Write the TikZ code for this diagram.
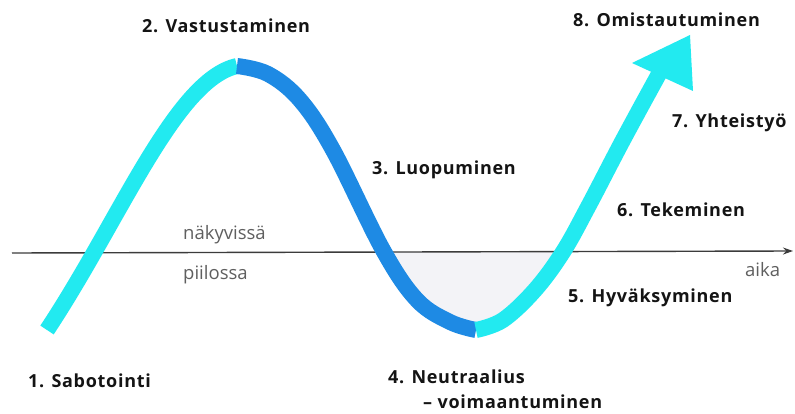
\documentclass[tikz,border=0pt]{standalone}
\usepackage{fontspec}
\setmainfont{Open Sans}
\usetikzlibrary{arrows.meta}
\definecolor{lightc}{RGB}{34,234,240}
\definecolor{darkb}{RGB}{30,138,228}
\definecolor{shadeg}{RGB}{243,243,247}
\definecolor{axisg}{RGB}{60,60,60}
\definecolor{labtext}{RGB}{20,20,20}
\definecolor{graytext}{RGB}{95,95,95}
\newfontfamily\labfont[LetterSpace=4]{Open Sans}
\tikzset{
  lab/.style={anchor=west, inner sep=0pt, text=labtext, font=\labfont\fontsize{18}{20}\selectfont\bfseries},
  glab/.style={anchor=west, inner sep=0pt, text=graytext, font=\fontsize{18.5}{20}\selectfont},
  curveseg/.style={line width=16pt, line cap=butt, line join=round},
}
\begin{document}
\begin{tikzpicture}[x=1pt,y=-1pt]
\useasboundingbox (0,0) rectangle (795,414);
\fill[white] (0,0) rectangle (795,414);
% coordinates
\coordinate (start) at (47,330);
\coordinate (peak) at (237,66);
\coordinate (trough) at (476,330);
\coordinate (cross) at (563,252);
\coordinate (shaftend) at (660,72);
\coordinate (axl) at (12,253);
\coordinate (axr) at (793,251);
% shaded hidden area
\begin{scope}
\clip (0,252.5) rectangle (795,414);
\fill[shadeg] plot[smooth, tension=0.6] coordinates {(237,66) (268,74) (300,100) (333,150) (383,250) (417,300) (450,322) (476,330)}
   -- plot[smooth, tension=0.6] coordinates {(476,330) (503,320) (535,290) (563,252)} -- cycle;
\end{scope}
% axis
\draw[axisg, line width=1.4pt, -{Stealth[length=10pt,width=7pt]}] (axl) -- (axr);
% curve
\draw[curveseg, lightc] (start) .. controls (120,220) and (175,80) .. (peak);
\draw[curveseg, darkb] plot[smooth, tension=0.6] coordinates {(237,66) (268,74) (300,100) (333,150) (383,250) (417,300) (450,322) (476,330)};
\draw[curveseg, lightc] plot[smooth, tension=0.6] coordinates {(476,330) (503,320) (535,290) (563,252) (588,207) (623,140) (660,72)};
\fill[lightc] (690,35) -- (632,63) -- (693,91) -- cycle;
% labels
\node[lab] (l1) at (28,381) {1. Sabotointi};
\node[lab] (l2) at (142,26) {2. Vastustaminen};
\node[lab] (l3) at (372,170) {3. Luopuminen};
\node[lab] (l4) at (388,377) {4. Neutraalius};
\node[lab] (l4b) at (423,402) {– voimaantuminen};
\node[lab] (l5) at (568,298) {5. Hyväksyminen};
\node[lab] (l6) at (617,210) {6. Tekeminen};
\node[lab] (l7) at (672,123) {7. Yhteistyö};
\node[lab] (l8) at (573,20) {8. Omistautuminen};
\node[glab] (vis) at (183,235) {näkyvissä};
\node[glab] (hid) at (183,275) {piilossa};
\node[glab] (aika) at (745,270) {aika};
\end{tikzpicture}
\end{document}
